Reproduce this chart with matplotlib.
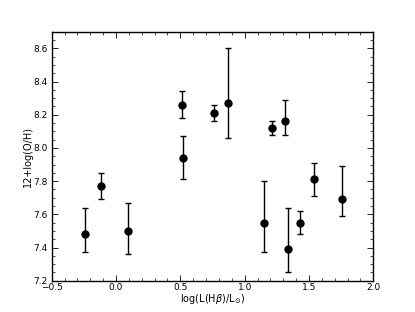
import matplotlib
matplotlib.use("Agg")
import matplotlib.pyplot as plt
from matplotlib.ticker import MultipleLocator

x = [-0.24, -0.12, 0.09, 0.51, 0.52, 0.76, 0.87, 1.15, 1.21, 1.31, 1.34, 1.43, 1.54, 1.76]
y = [7.48, 7.77, 7.50, 8.26, 7.94, 8.21, 8.27, 7.55, 8.12, 8.16, 7.39, 7.55, 7.81, 7.69]
y_hi = [7.64, 7.85, 7.67, 8.34, 8.07, 8.26, 8.60, 7.80, 8.16, 8.29, 7.64, 7.62, 7.91, 7.89]
y_lo = [7.37, 7.69, 7.36, 8.18, 7.81, 8.16, 8.06, 7.37, 8.08, 8.08, 7.25, 7.48, 7.71, 7.59]

err_lo = [a - b for a, b in zip(y, y_lo)]
err_hi = [b - a for a, b in zip(y, y_hi)]

fig = plt.figure(figsize=(4.15, 3.12), dpi=100)
ax = fig.add_axes([0.1246, 0.1003, 0.775, 0.798])

ax.errorbar(x, y, yerr=[err_lo, err_hi], fmt='o', color='black', ecolor='black',
            markersize=5, elinewidth=1.0, capsize=2, capthick=1.0)

ax.set_xlim(-0.5, 2.0)
ax.set_ylim(7.2, 8.7)
ax.xaxis.set_major_locator(MultipleLocator(0.5))
ax.xaxis.set_minor_locator(MultipleLocator(0.1))
ax.yaxis.set_major_locator(MultipleLocator(0.2))
ax.yaxis.set_minor_locator(MultipleLocator(0.05))
ax.tick_params(which='both', direction='in', top=True, right=True, labelsize=6.5)
ax.tick_params(axis='x', pad=2)
ax.tick_params(axis='y', pad=3)
ax.tick_params(which='major', length=4, width=0.6)
ax.tick_params(which='minor', length=2, width=0.5)
for s in ax.spines.values():
    s.set_linewidth(1.0)

ax.set_xlabel(r'log(L(H$\beta$)/L$_{\odot}$)', fontsize=7, labelpad=0)
ax.set_ylabel('12+log(O/H)', fontsize=7, labelpad=0)

fig.savefig('out.png', dpi=100)
